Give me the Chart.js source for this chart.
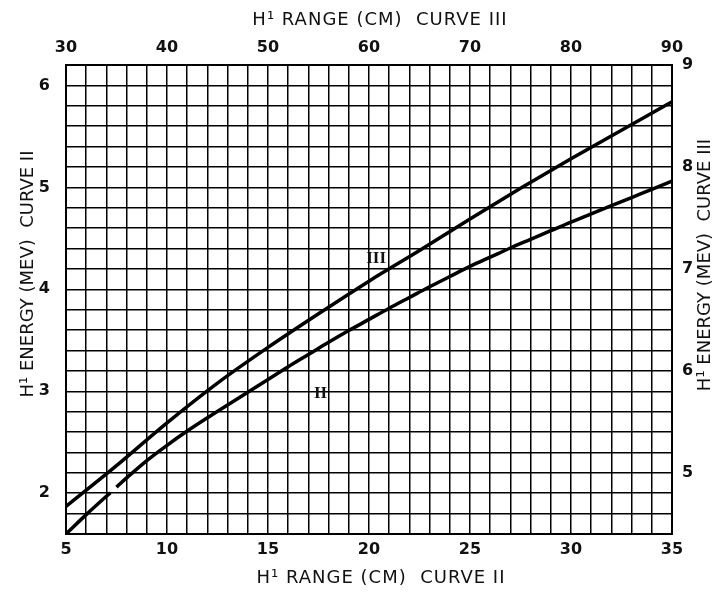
<!DOCTYPE html>
<html>
<head>
<meta charset="utf-8">
<script src="https://cdn.jsdelivr.net/npm/chart.js@4.4.1/dist/chart.umd.min.js"></script>
<style>
  html, body { margin: 0; padding: 0; background: #fff; }
  canvas { display: block; }
</style>
</head>
<body>
<canvas id="myChart" width="724" height="594"></canvas>
<script>
// curve II : range (cm) on the bottom axis, energy (MeV) on the left axis
const rangeII = [5, 6, 7, 7.2, 7.35, 7.5, 8, 9, 10, 11, 12, 13, 14, 15, 16, 17, 18, 19, 20,
  21, 22, 23, 24, 25, 26, 27, 28, 29, 30, 31, 32, 33, 34, 35];
const energyII = [1.60, 1.79, 1.97, 2.005, null, 2.06, 2.15, 2.32, 2.47, 2.61, 2.74, 2.865, 2.99,
  3.115, 3.24, 3.36, 3.48, 3.595, 3.705, 3.815, 3.92, 4.025, 4.125, 4.225, 4.315, 4.405,
  4.49, 4.575, 4.66, 4.74, 4.82, 4.90, 4.98, 5.06];

// curve III : range (cm) on the top axis, energy (MeV) on the right axis
const rangeIII = [30, 35, 40, 45, 50, 55, 60, 65, 70, 75, 80, 85, 90];
const energyIII = [4.67, 5.07, 5.49, 5.88, 6.23, 6.56, 6.88, 7.18, 7.49, 7.79, 8.08, 8.36, 8.64];

// tick labels
const bottomTicks = [5, 10, 15, 20, 25, 30, 35];
const topTicks = [30, 40, 50, 60, 70, 80, 90];
const leftTicks = [2, 3, 4, 5, 6];
const rightTicks = [5, 6, 7, 8, 9];

// texts
const titleBottom = "H\u00B9 RANGE (CM)  CURVE II";
const titleTop = "H\u00B9 RANGE (CM)  CURVE III";
const titleLeft = "H\u00B9 ENERGY (MEV)  CURVE II";
const titleRight = "H\u00B9 ENERGY (MEV)  CURVE III";
const curveLabels = [
  { text: "III", x: 60.7, y: 7.10, xAxis: "x2", yAxis: "y2" },
  { text: "II", x: 17.6, y: 2.98, xAxis: "x", yAxis: "y" },
];

const ink = "#111";
const tickFont = { family: "DejaVu Sans", size: 16, weight: "bold" };

function pairs(xs, ys) {
  return xs.map((x, i) => ({ x: x, y: ys[i] }));
}
function intLabel(list) {
  return function (v) {
    const r = Math.round(v);
    return Math.abs(v - r) < 1e-6 && list.includes(r) ? String(r) : "";
  };
}

const textPlugin = {
  id: "textPlugin",
  afterDraw(chart) {
    const { ctx, scales } = chart;
    ctx.save();
    ctx.fillStyle = ink;
    ctx.textAlign = "center";
    ctx.textBaseline = "middle";
    ctx.font = '18px "DejaVu Sans"';
    ctx.letterSpacing = "1px";
    ctx.fillText(titleTop, 380, 20);
    ctx.fillText(titleBottom, 381, 578);

    ctx.letterSpacing = "0px";
    ctx.save();
    ctx.translate(28, 274);
    ctx.rotate(-Math.PI / 2);
    ctx.fillText(titleLeft, 0, 0);
    ctx.restore();

    ctx.save();
    ctx.translate(705, 265);
    ctx.rotate(-Math.PI / 2);
    ctx.fillText(titleRight, 0, 0);
    ctx.restore();

    ctx.font = 'bold 17px "Liberation Serif"';
    curveLabels.forEach((l) => {
      ctx.fillText(l.text, scales[l.xAxis].getPixelForValue(l.x), scales[l.yAxis].getPixelForValue(l.y));
    });
    ctx.restore();
  },
};

const ctx = document.getElementById("myChart");
new Chart(ctx, {
  type: "scatter",
  data: {
    datasets: [
      {
        label: "Curve II",
        data: pairs(rangeII, energyII),
        xAxisID: "x",
        yAxisID: "y",
        showLine: true,
        spanGaps: false,
        borderColor: "#000",
        borderWidth: 3.5,
        pointRadius: 0,
        cubicInterpolationMode: "monotone",
      },
      {
        label: "Curve III",
        data: pairs(rangeIII, energyIII),
        xAxisID: "x2",
        yAxisID: "y2",
        showLine: true,
        borderColor: "#000",
        borderWidth: 3.5,
        pointRadius: 0,
        cubicInterpolationMode: "monotone",
      },
    ],
  },
  options: {
    responsive: false,
    animation: false,
    devicePixelRatio: 1,
    layout: { padding: 0 },
    plugins: {
      legend: { display: false },
      tooltip: { enabled: false },
    },
    scales: {
      x: {
        type: "linear",
        position: "bottom",
        min: 5,
        max: 35,
        ticks: {
          stepSize: 1,
          autoSkip: false,
          maxRotation: 0,
          padding: 6,
          color: ink,
          font: tickFont,
          callback: intLabel(bottomTicks),
        },
        grid: { color: "#000", lineWidth: 1.5, drawTicks: false },
        border: { display: true, color: "#000", width: 2 },
        afterFit: (s) => { s.height = 60; },
      },
      x2: {
        type: "linear",
        position: "top",
        min: 30,
        max: 90,
        ticks: {
          stepSize: 10,
          autoSkip: false,
          maxRotation: 0,
          padding: 8,
          color: ink,
          font: tickFont,
          callback: intLabel(topTicks),
        },
        grid: { display: false, drawTicks: false },
        border: { display: true, color: "#000", width: 2 },
        afterFit: (s) => { s.height = 65; },
      },
      y: {
        type: "linear",
        position: "left",
        min: 1.6,
        max: 6.2,
        ticks: {
          stepSize: 0.2,
          autoSkip: false,
          padding: 16,
          color: ink,
          font: tickFont,
          callback: intLabel(leftTicks),
        },
        grid: { color: "#000", lineWidth: 1.5, drawTicks: false },
        border: { display: true, color: "#000", width: 2 },
        afterFit: (s) => { s.width = 66; },
      },
      y2: {
        type: "linear",
        position: "right",
        min: 4.4,
        max: 9,
        ticks: {
          stepSize: 1,
          autoSkip: false,
          padding: 10,
          color: ink,
          font: tickFont,
          callback: intLabel(rightTicks),
        },
        grid: { display: false, drawTicks: false },
        border: { display: true, color: "#000", width: 2 },
        afterFit: (s) => { s.width = 52; },
      },
    },
  },
  plugins: [textPlugin],
});
</script>
</body>
</html>
